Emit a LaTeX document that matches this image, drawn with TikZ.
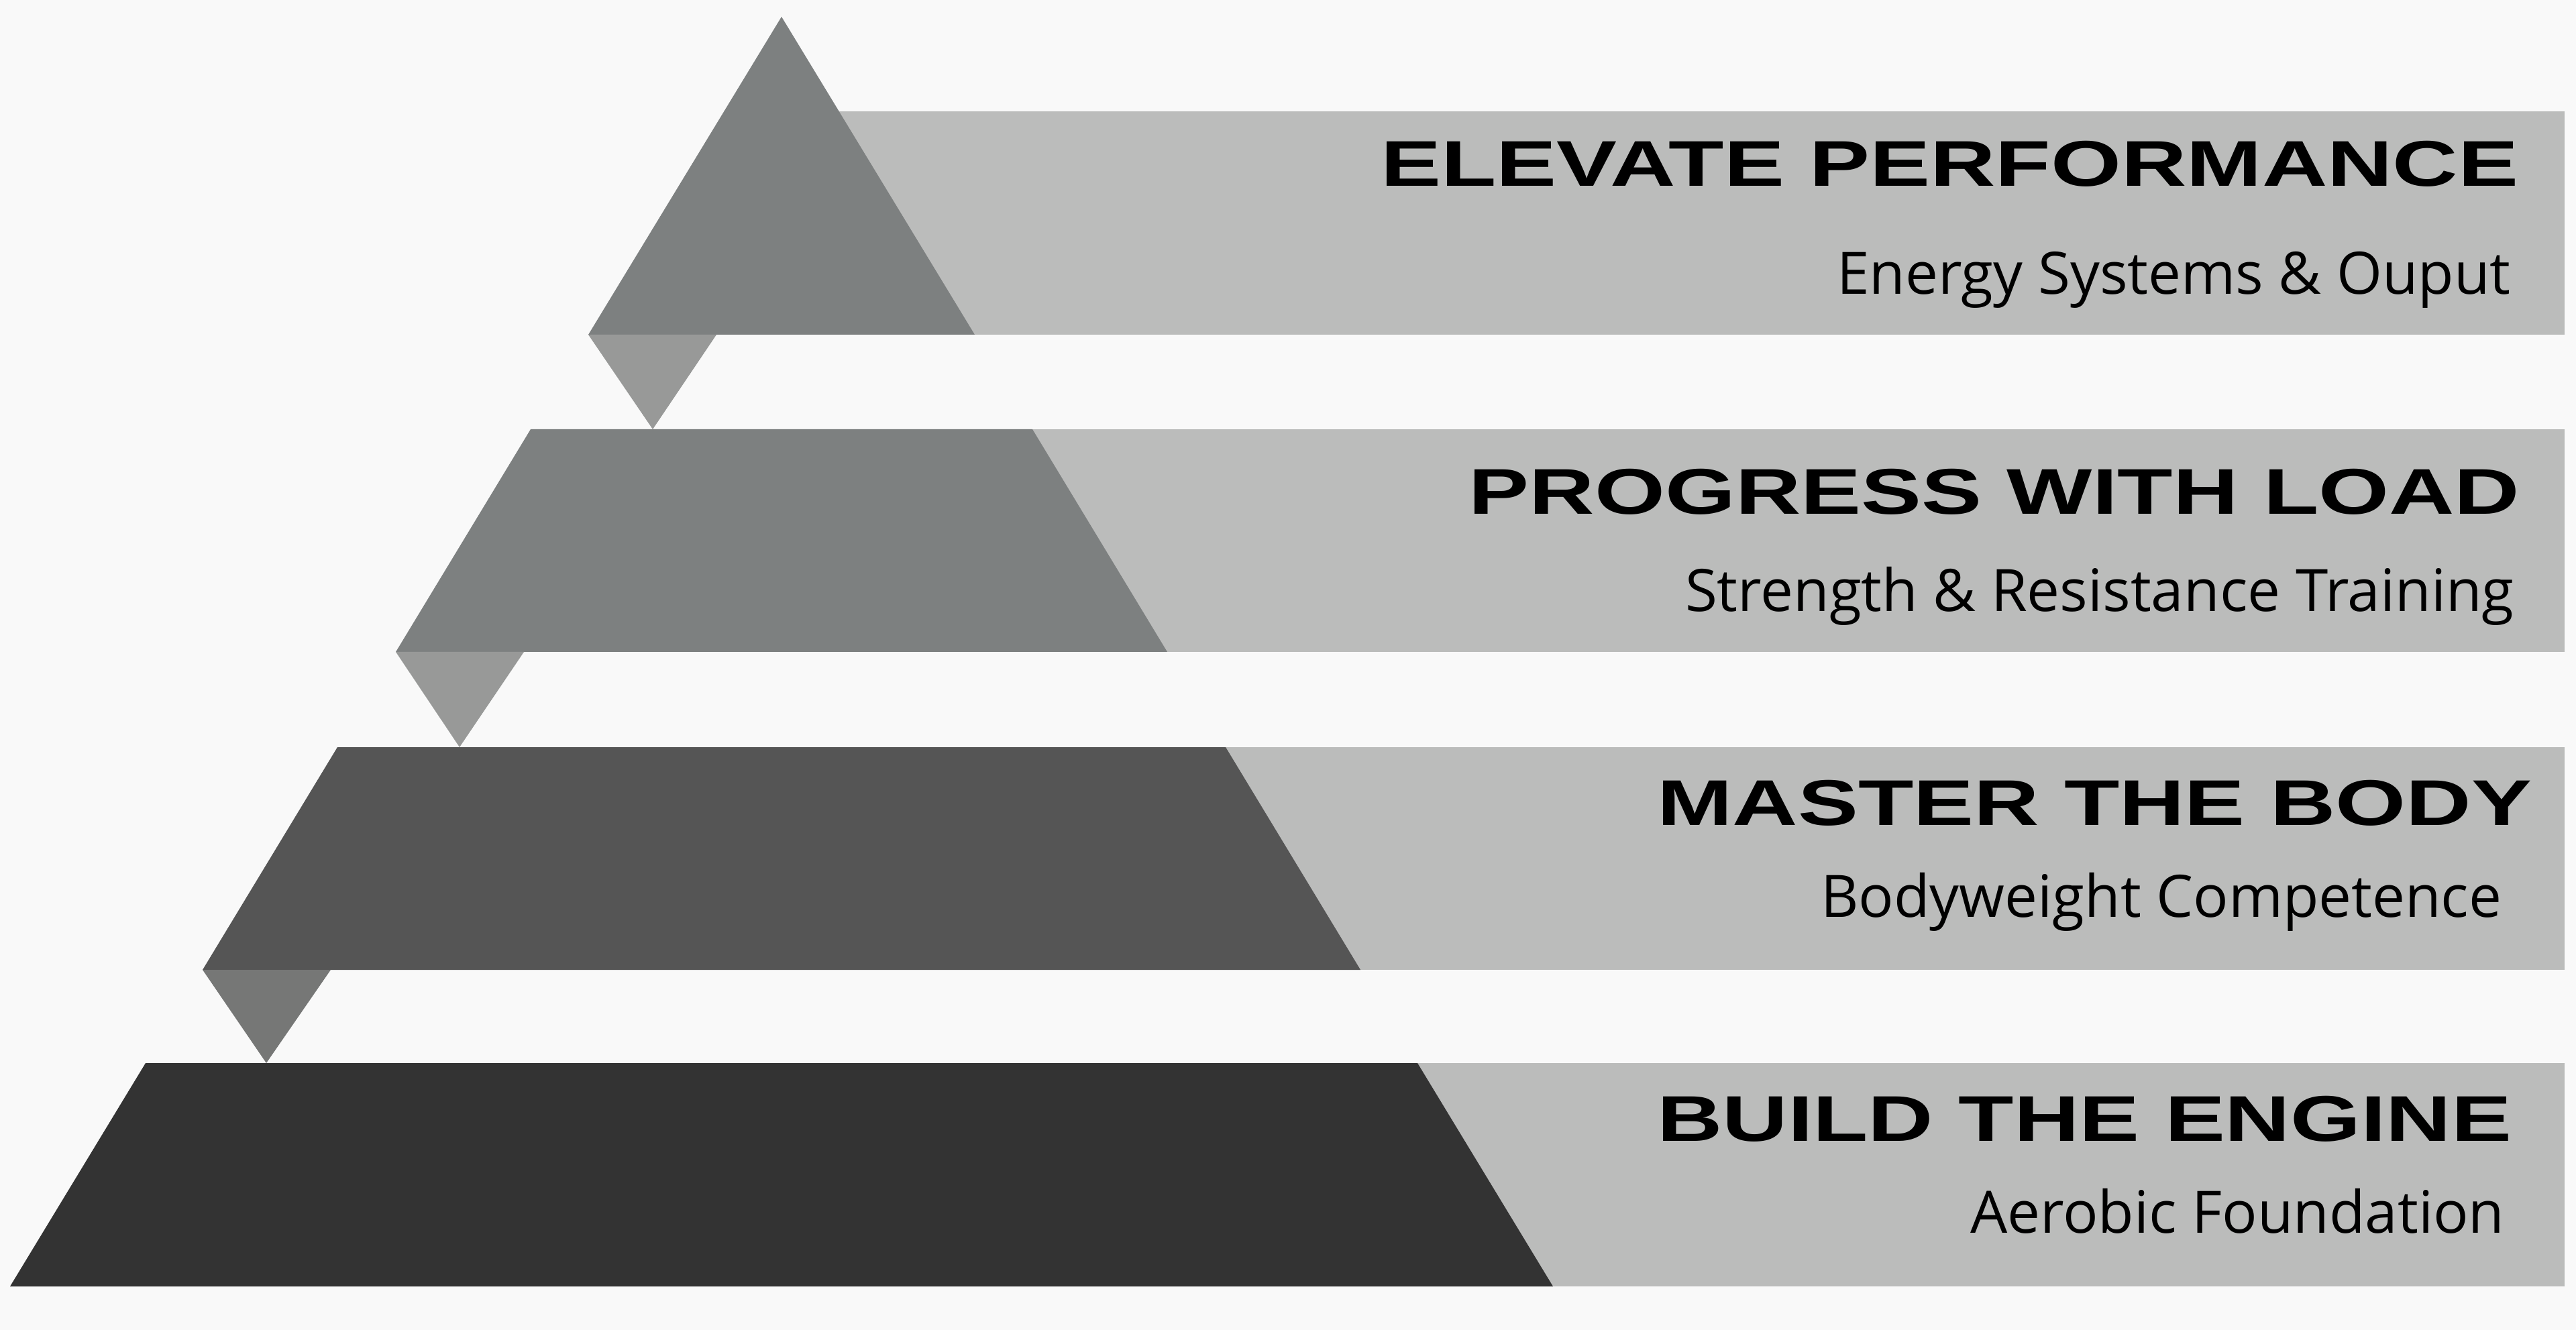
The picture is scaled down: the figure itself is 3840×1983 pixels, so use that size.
\documentclass[tikz,border=0pt]{standalone}
\usepackage{fontspec}
\setmainfont{Open Sans}
\newfontfamily\headfont[FakeStretch=1.4]{Liberation Sans}
\usepackage{tikz}

\definecolor{paper}{HTML}{F9F9F9}
\definecolor{band}{HTML}{BBBCBB}
\definecolor{tierlight}{HTML}{7D8080}
\definecolor{tiermid}{HTML}{555555}
\definecolor{tierdark}{HTML}{333333}
\definecolor{foldlight}{HTML}{989998}
\definecolor{folddark}{HTML}{767776}

\begin{document}
\begin{tikzpicture}[x=0.01cm, y=-0.01cm]
      \tikzstyle{every node}=[inner sep=0pt, anchor=base east]
      \tikzstyle{headtext}=[font=\headfont\bfseries\fontsize{27.4}{30}\selectfont]
      \tikzstyle{subtext}=[font=\fontsize{24.8}{28}\selectfont]
      \useasboundingbox (0,0) rectangle (3840,1983);
      \fill [paper] (0,0) rectangle (3840,1983);
      % bands behind the pyramid
      \fill [band] (1165,166) rectangle (3823,499);
      \fill [band] (1165,640) rectangle (3823,972);
      \fill [band] (1165,1114) rectangle (3823,1446);
      \fill [band] (1165,1585) rectangle (3823,1918);
      % pyramid tiers
      \fill [tierlight] (1165,25) -- (1453,499) -- (877,499) -- cycle;
      \fill [tierlight] (791,640) -- (1539,640) -- (1740,972) -- (590,972) -- cycle;
      \fill [tiermid] (503,1114) -- (1827,1114) -- (2028,1446) -- (302,1446) -- cycle;
      \fill [tierdark] (217,1585) -- (2113,1585) -- (2315,1918) -- (15,1918) -- cycle;
      % folds
      \fill [foldlight] (877,499) -- (1068,499) -- (973,640) -- cycle;
      \fill [foldlight] (590,972) -- (781,972) -- (685,1114) -- cycle;
      \fill [folddark] (302,1446) -- (493,1446) -- (397,1585) -- cycle;
      \node [headtext] (h1) at (3755, 278) {ELEVATE PERFORMANCE};
      \node [subtext] (s1) at (3743, 439) {Energy Systems \& Ouput};
      \node [headtext] (h2) at (3757, 767) {PROGRESS WITH LOAD};
      \node [subtext] (s2) at (3748, 912) {Strength \& Resistance Training};
      \node [headtext] (h3) at (3775, 1230) {MASTER THE BODY};
      \node [subtext] (s3) at (3730, 1367) {Bodyweight Competence};
      \node [headtext] (h4) at (3745, 1701) {BUILD THE ENGINE};
      \node [subtext] (s4) at (3734, 1838) {Aerobic Foundation};
    \end{tikzpicture}
\end{document}
